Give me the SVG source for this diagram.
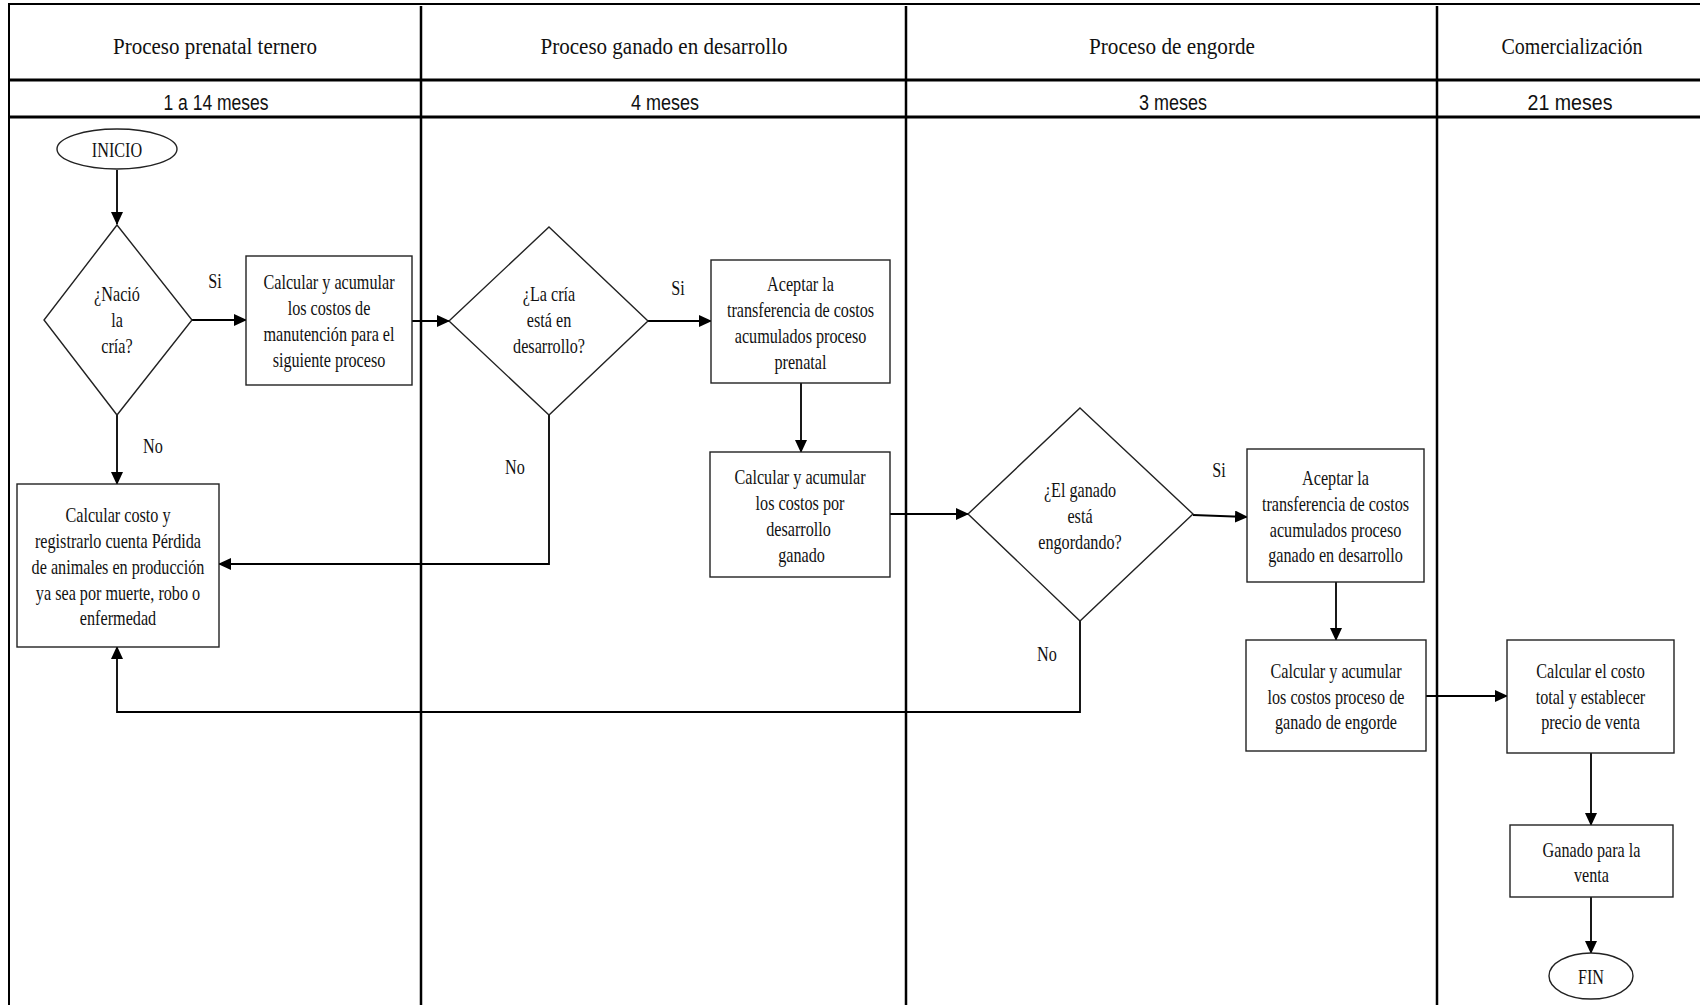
<svg xmlns="http://www.w3.org/2000/svg" width="1700" height="1005" viewBox="0 0 1700 1005">
<defs>
<marker id="ah" markerWidth="13" markerHeight="12" refX="12" refY="6" orient="auto" markerUnits="userSpaceOnUse"><path d="M0,0 L13,6 L0,12 Z" fill="#000"/></marker>
<style>
.grid{stroke:#000;fill:none}
.shape{fill:#fff;stroke:#222;stroke-width:1.4}
.c{fill:none;stroke:#000;stroke-width:1.8}
.t{font-family:"Liberation Serif","Times New Roman",serif;font-size:22px;text-anchor:middle;fill:#111}
.h{font-family:"Liberation Serif","Times New Roman",serif;font-size:24px;text-anchor:middle;fill:#111}
.m{font-family:"Liberation Sans",Arial,sans-serif;font-size:21.5px;text-anchor:middle;fill:#111}
</style>
</defs>
<rect width="1700" height="1005" fill="#fff"/>

<g id="lanes">
<line class="grid" x1="8" y1="4" x2="1700" y2="4" stroke-width="2"/>
<line class="grid" x1="9" y1="4" x2="9" y2="1005" stroke-width="2"/>
<line class="grid" x1="9" y1="80" x2="1700" y2="80" stroke-width="3"/>
<line class="grid" x1="9" y1="117" x2="1700" y2="117" stroke-width="3"/>
<line class="grid" x1="421" y1="6" x2="421" y2="1005" stroke-width="2.5"/>
<line class="grid" x1="906" y1="6" x2="906" y2="1005" stroke-width="2.5"/>
<line class="grid" x1="1437" y1="6" x2="1437" y2="1005" stroke-width="2.5"/>
<text class="h" x="215" y="54" textLength="204" lengthAdjust="spacingAndGlyphs">Proceso prenatal ternero</text>
<text class="h" x="664" y="54" textLength="247" lengthAdjust="spacingAndGlyphs">Proceso ganado en desarrollo</text>
<text class="h" x="1172" y="54" textLength="166" lengthAdjust="spacingAndGlyphs">Proceso de engorde</text>
<text class="h" x="1572" y="54" textLength="141" lengthAdjust="spacingAndGlyphs">Comercialización</text>
<text class="m" x="216" y="110" textLength="105" lengthAdjust="spacingAndGlyphs">1 a 14 meses</text>
<text class="m" x="665" y="110" textLength="68" lengthAdjust="spacingAndGlyphs">4 meses</text>
<text class="m" x="1173" y="110" textLength="68" lengthAdjust="spacingAndGlyphs">3 meses</text>
<text class="m" x="1570" y="110" textLength="85" lengthAdjust="spacingAndGlyphs">21 meses</text>
</g>

<g id="connectors">
<path class="c" d="M117,170 V224" marker-end="url(#ah)"/>
<path class="c" d="M192,320 H246" marker-end="url(#ah)"/>
<path class="c" d="M412,321 H449" marker-end="url(#ah)"/>
<path class="c" d="M648,321 H711" marker-end="url(#ah)"/>
<path class="c" d="M801,383 V452" marker-end="url(#ah)"/>
<path class="c" d="M890,514 H968" marker-end="url(#ah)"/>
<path class="c" d="M1193,515 L1247,517" marker-end="url(#ah)"/>
<path class="c" d="M1336,582 V640" marker-end="url(#ah)"/>
<path class="c" d="M1426,696 H1507" marker-end="url(#ah)"/>
<path class="c" d="M1591,753 V825" marker-end="url(#ah)"/>
<path class="c" d="M1591,897 V953" marker-end="url(#ah)"/>
<path class="c" d="M117,415 V484" marker-end="url(#ah)"/>
<path class="c" d="M549,415 V564 H219" marker-end="url(#ah)"/>
<path class="c" d="M1080,620 V712 H117 V647" marker-end="url(#ah)"/>
<g transform="translate(215,0) scale(0.735,1)"><text class="t" x="0" y="288">Si</text></g>
<g transform="translate(678,0) scale(0.735,1)"><text class="t" x="0" y="295">Si</text></g>
<g transform="translate(1219,0) scale(0.735,1)"><text class="t" x="0" y="477">Si</text></g>
<g transform="translate(153,0) scale(0.735,1)"><text class="t" x="0" y="453">No</text></g>
<g transform="translate(515,0) scale(0.735,1)"><text class="t" x="0" y="474">No</text></g>
<g transform="translate(1047,0) scale(0.735,1)"><text class="t" x="0" y="661">No</text></g>
</g>

<g id="inicio">
<ellipse class="shape" cx="117" cy="149" rx="60" ry="20"/>
<g transform="translate(117,0) scale(0.735,1)"><text class="t" x="0" y="157">INICIO</text></g>
</g>

<g id="d1">
<polygon class="shape" points="117,225 192,320 117,415 44,320"/>
<g transform="translate(117,0) scale(0.735,1)"><text class="t"><tspan x="0" y="301">¿Nació</tspan><tspan x="0" y="327">la</tspan><tspan x="0" y="353">cría?</tspan></text></g>
</g>

<g id="b1">
<rect class="shape" x="246" y="256" width="166" height="129"/>
<g transform="translate(329,0) scale(0.735,1)"><text class="t"><tspan x="0" y="289">Calcular  y acumular</tspan><tspan x="0" y="315">los costos de</tspan><tspan x="0" y="341">manutención para el</tspan><tspan x="0" y="367">siguiente proceso</tspan></text></g>
</g>

<g id="d2">
<polygon class="shape" points="549,227 648,321 549,415 449,321"/>
<g transform="translate(549,0) scale(0.735,1)"><text class="t"><tspan x="0" y="301">¿La cría</tspan><tspan x="0" y="327">está en</tspan><tspan x="0" y="353">desarrollo?</tspan></text></g>
</g>

<g id="b3">
<rect class="shape" x="711" y="260" width="179" height="123"/>
<g transform="translate(800.5,0) scale(0.735,1)"><text class="t"><tspan x="0" y="291">Aceptar la</tspan><tspan x="0" y="317">transferencia de costos</tspan><tspan x="0" y="343">acumulados  proceso</tspan><tspan x="0" y="369">prenatal</tspan></text></g>
</g>

<g id="b4">
<rect class="shape" x="710" y="452" width="180" height="125"/>
<g transform="translate(800,0) scale(0.735,1)"><text class="t"><tspan x="0" y="484">Calcular  y acumular</tspan><tspan x="0" y="510">los costos por</tspan><tspan x="-2" y="536">desarrollo</tspan><tspan x="2" y="562">ganado</tspan></text></g>
</g>

<g id="d3">
<polygon class="shape" points="1080,408 1193,514 1080,621 968,514"/>
<g transform="translate(1080,0) scale(0.735,1)"><text class="t"><tspan x="0" y="497">¿El ganado</tspan><tspan x="0" y="523">está</tspan><tspan x="0" y="549">engordando?</tspan></text></g>
</g>

<g id="b5">
<rect class="shape" x="1247" y="449" width="177" height="133"/>
<g transform="translate(1335.5,0) scale(0.735,1)"><text class="t"><tspan x="0" y="485">Aceptar la</tspan><tspan x="0" y="511">transferencia de costos</tspan><tspan x="0" y="537">acumulados  proceso</tspan><tspan x="0" y="562">ganado  en desarrollo</tspan></text></g>
</g>

<g id="b6">
<rect class="shape" x="1246" y="640" width="180" height="111"/>
<g transform="translate(1336,0) scale(0.735,1)"><text class="t"><tspan x="0" y="678">Calcular  y acumular</tspan><tspan x="0" y="704">los costos proceso de</tspan><tspan x="0" y="729">ganado  de engorde</tspan></text></g>
</g>

<g id="b7">
<rect class="shape" x="1507" y="640" width="167" height="113"/>
<g transform="translate(1590.5,0) scale(0.735,1)"><text class="t"><tspan x="0" y="678">Calcular  el costo</tspan><tspan x="0" y="704">total y establecer</tspan><tspan x="0" y="729">precio de venta</tspan></text></g>
</g>

<g id="b8">
<rect class="shape" x="1510" y="825" width="163" height="72"/>
<g transform="translate(1591.5,0) scale(0.735,1)"><text class="t"><tspan x="0" y="857">Ganado para la</tspan><tspan x="0" y="882">venta</tspan></text></g>
</g>

<g id="fin">
<ellipse class="shape" cx="1591" cy="976" rx="42" ry="23"/>
<g transform="translate(1591,0) scale(0.735,1)"><text class="t" x="0" y="984">FIN</text></g>
</g>

<g id="loss">
<rect class="shape" x="17" y="484" width="202" height="163"/>
<g transform="translate(118,0) scale(0.735,1)"><text class="t"><tspan x="0" y="522">Calcular  costo y</tspan><tspan x="0" y="548">registrarlo cuenta Pérdida</tspan><tspan x="0" y="574">de animales  en producción</tspan><tspan x="0" y="600">ya sea por muerte, robo o</tspan><tspan x="0" y="625">enfermedad</tspan></text></g>
</g>
</svg>
